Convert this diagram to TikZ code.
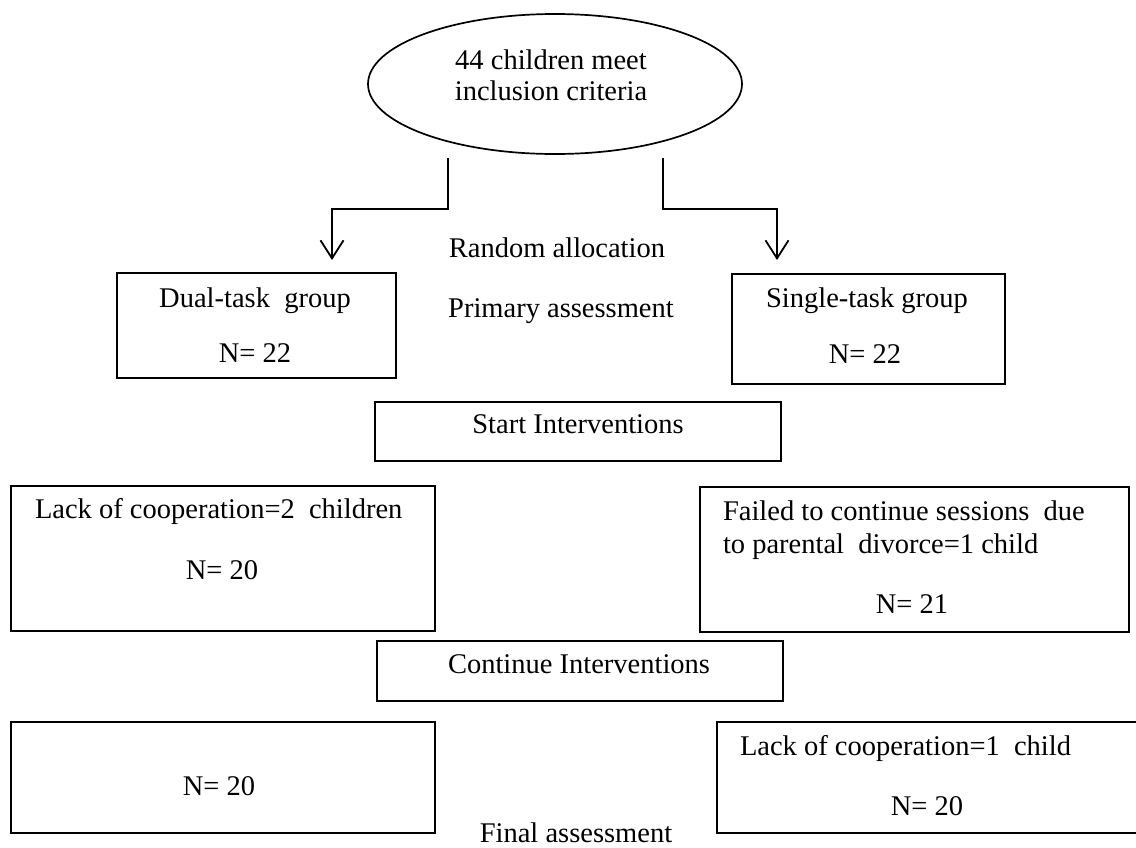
\documentclass[tikz,border=0pt]{standalone}
\usepackage{fontspec}
\setmainfont{Liberation Serif}
\usetikzlibrary{shapes.geometric,arrows.meta}
\begin{document}
\begin{tikzpicture}[x=1pt,y=-1pt,
  box/.style={draw, line width=1.8pt, rectangle, inner sep=0pt, outer sep=0pt},
  txt/.style={font=\fontsize{28.5}{33}\selectfont, inner sep=0pt, outer sep=0pt, anchor=base},
  txtl/.style={txt, anchor=base west},
  conn/.style={line width=1.8pt, -{Straight Barb[length=18pt,width=23pt]}}]
\useasboundingbox (0,0) rectangle (1136,847);
\clip (0,0) rectangle (1136,847);
\fill[white] (0,0) rectangle (1136,847);

% ellipse
\node[draw, ellipse, line width=1.7pt, minimum width=374pt, minimum height=140pt, inner sep=0pt] (ell) at (555,84) {};
\node[txt] (t1) at (551,69) {44 children meet};
\node[txt] (t2) at (551,100) {inclusion criteria};

% connectors
\coordinate (la) at (448,158);
\coordinate (lm) at (448,209);
\coordinate (lb) at (332,260);
\coordinate (ra) at (663,158);
\coordinate (rm) at (663,209);
\coordinate (rb) at (777,260);
\draw[conn] (la) -- (lm) -| (lb);
\draw[conn] (ra) -- (rm) -| (rb);

\node[txt] (rand) at (557,257) {Random allocation};
\node[txt] (prim) at (561,317) {Primary assessment};

% group boxes
\node[box, minimum width=279pt, minimum height=105pt] (dual) at (256.5,325.5) {};
\node[txt] (dual1) at (255,307) {Dual-task\ \ group};
\node[txt] (dual2) at (255,362) {N= 22};

\node[box, minimum width=273pt, minimum height=110pt] (single) at (868.5,329) {};
\node[txt] (single1) at (867,307) {Single-task group};
\node[txt] (single2) at (865,363) {N= 22};

% start interventions
\node[box, minimum width=406pt, minimum height=59pt] (start) at (578,431.5) {};
\node[txt] (startt) at (578,433) {Start Interventions};

% second row
\node[box, minimum width=424pt, minimum height=145pt] (lack) at (223,558.5) {};
\node[txtl] (lack1) at (35,518) {Lack of cooperation=2\ \ children};
\node[txt] (lack2) at (222,579) {N= 20};

\node[box, minimum width=429pt, minimum height=145pt] (fail) at (914.5,559.5) {};
\node[txtl] (fail1) at (723,520) {Failed to continue sessions\ \ due};
\node[txtl] (fail2) at (723,553) {to parental\ \ divorce=1 child};
\node[txt] (fail3) at (912,613) {N= 21};

% continue interventions
\node[box, minimum width=406pt, minimum height=60pt] (cont) at (580,671) {};
\node[txt] (contt) at (579,673) {Continue Interventions};

% third row
\node[box, minimum width=424pt, minimum height=111pt] (fin1) at (223,777.5) {};
\node[txt] (fin1t) at (219,795) {N= 20};

\node[box, minimum width=430pt, minimum height=111pt] (fin2) at (932,777.5) {};
\node[txtl] (fin2a) at (740,755) {Lack of cooperation=1\ \ child};
\node[txt] (fin2b) at (927,815) {N= 20};

\node[txt] (final) at (576,842) {Final assessment};
\end{tikzpicture}
\end{document}
